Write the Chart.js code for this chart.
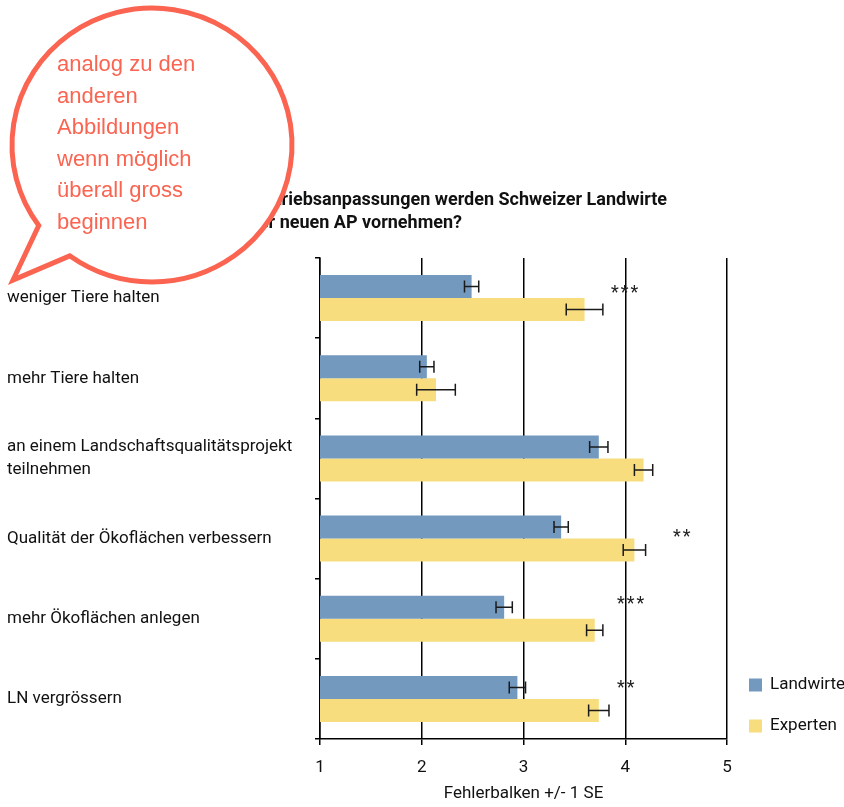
<!DOCTYPE html>
<html>
<head>
<meta charset="utf-8">
<script src="https://cdn.jsdelivr.net/npm/chart.js@4"></script>
<style>
  body { margin: 0; background: #fff; }
  #wrap { width: 844px; height: 807px; position: relative; }
</style>
</head>
<body>
<div id="wrap"><canvas id="chart"></canvas></div>
<script>
// Werte (Mittelwerte und SE)
const categories = [
  'weniger Tiere halten',
  'mehr Tiere halten',
  ['an einem Landschaftsqualitätsprojekt', 'teilnehmen'],
  'Qualität der Ökoflächen verbessern',
  'mehr Ökoflächen anlegen',
  'LN vergrössern'
];
const landwirte = [2.49, 2.05, 3.74, 3.37, 2.81, 2.94];
const landwirteSE = [0.07, 0.07, 0.09, 0.07, 0.08, 0.08];
const experten = [3.60, 2.14, 4.18, 4.09, 3.70, 3.74];
const expertenSE = [0.18, 0.19, 0.09, 0.11, 0.08, 0.10];
const signif = ['***', '', '', '**', '***', '**'];
const signifAt = [3.86, null, null, 4.47, 3.92, 3.92];
const xTicks = [1, 2, 3, 4, 5];

// wo die Sterne vertikal sitzen (px relativ zur Kategorienmitte)
const signifDy = [-5, 0, 0, -1, -14, -10];

const titleLines = ['Welche Betriebsanpassungen werden Schweizer Landwirte', 'aufgrund der neuen AP vornehmen?'];
const noteLines = ['analog zu den', 'anderen', 'Abbildungen', 'wenn möglich', 'überall gross', 'beginnen'];

const FONT = 'Roboto, "Noto Sans", sans-serif';
const RED = '#FA6450';

const errorBars = {
  id: 'errorBars',
  afterDatasetsDraw(chart) {
    const ctx = chart.ctx, xs = chart.scales.x;
    ctx.save();
    ctx.strokeStyle = '#1a1a1a';
    ctx.lineWidth = 1.5;
    chart.data.datasets.forEach((ds, di) => {
      chart.getDatasetMeta(di).data.forEach((bar, i) => {
        const v = ds.data[i], e = ds.errors[i];
        const x1 = xs.getPixelForValue(v - e), x2 = xs.getPixelForValue(v + e), y = bar.y;
        ctx.beginPath();
        ctx.moveTo(x1, y); ctx.lineTo(x2, y);
        ctx.moveTo(x1, y - 6); ctx.lineTo(x1, y + 6);
        ctx.moveTo(x2, y - 6); ctx.lineTo(x2, y + 6);
        ctx.stroke();
      });
    });
    // Signifikanzsterne
    const ys = chart.scales.y;
    ctx.fillStyle = '#222';
    ctx.font = '18px ' + FONT;
    ctx.letterSpacing = '2px';
    ctx.textAlign = 'left';
    ctx.textBaseline = 'middle';
    signif.forEach((s, i) => {
      if (!s) return;
      ctx.fillText(s, xs.getPixelForValue(signifAt[i]), ys.getPixelForValue(i) + signifDy[i]);
    });
    ctx.restore();
  }
};

const extras = {
  id: 'extras',
  afterDraw(chart) {
    const ctx = chart.ctx, area = chart.chartArea;
    ctx.save();
    // Titel
    ctx.fillStyle = '#111';
    ctx.font = 'bold 18px ' + FONT;
    ctx.textAlign = 'right';
    ctx.textBaseline = 'middle';
    ctx.fillText(titleLines[0], 667, 200);
    ctx.fillText(titleLines[1], 462, 223);

    // Legende
    ctx.textAlign = 'left';
    ctx.font = '17px ' + FONT;
    chart.data.datasets.forEach((ds, i) => {
      const y = area.bottom - 54 + i * 41;
      ctx.fillStyle = ds.backgroundColor;
      ctx.fillRect(area.right + 22, y - 6.5, 13, 13);
      ctx.fillStyle = '#111';
      ctx.fillText(ds.label, area.right + 43, y);
    });

    // Sprechblase
    const cx = 152, cy = 145, rx = 140, ry = 137;
    ctx.beginPath();
    ctx.ellipse(cx, cy, rx, ry, 0, 144 * Math.PI / 180, 126 * Math.PI / 180, false);
    ctx.lineTo(13, 280);
    ctx.closePath();
    ctx.fillStyle = '#fff';
    ctx.fill();
    ctx.lineWidth = 5;
    ctx.lineJoin = 'miter';
    ctx.strokeStyle = RED;
    ctx.stroke();
    ctx.fillStyle = RED;
    ctx.font = '22px "Liberation Sans", Arial, sans-serif';
    noteLines.forEach((t, i) => ctx.fillText(t, 57, 65 + i * 31.6));
    ctx.restore();
  }
};

new Chart(document.getElementById('chart'), {
  type: 'bar',
  data: {
    labels: categories,
    datasets: [
      { label: 'Landwirte', data: landwirte, errors: landwirteSE, backgroundColor: '#7399BF' },
      { label: 'Experten', data: experten, errors: expertenSE, backgroundColor: '#F7DD7E' }
    ]
  },
  options: {
    indexAxis: 'y',
    responsive: true,
    maintainAspectRatio: false,
    animation: false,
    layout: { padding: { left: 7, right: 117, top: 258, bottom: 0 } },
    datasets: { bar: { categoryPercentage: 0.574, barPercentage: 1, borderWidth: 0 } },
    plugins: { legend: { display: false }, tooltip: { enabled: false } },
    scales: {
      x: {
        min: 1, max: 5,
        afterBuildTicks(scale) { scale.ticks = xTicks.map(v => ({ value: v })); },
        afterFit(scale) { scale.height = 68; },
        grid: { color: '#000', lineWidth: 1.5, tickLength: 6 },
        border: { color: '#000', width: 1.5 },
        ticks: { color: '#111', font: { family: FONT, size: 17 }, padding: 13 },
        title: { display: true, text: 'Fehlerbalken +/- 1 SE', color: '#111',
                 font: { family: FONT, size: 17 }, padding: { top: 2, bottom: 3 } }
      },
      y: {
        afterFit(scale) { scale.width = 313; },
        grid: { offset: true, drawOnChartArea: false, color: '#000', lineWidth: 1.5, tickLength: 5 },
        border: { color: '#000', width: 1.5 },
        ticks: { crossAlign: 'far', color: '#111', font: { family: FONT, size: 17, lineHeight: 1.35 } }
      }
    }
  },
  plugins: [errorBars, extras]
});
</script>
</body>
</html>
